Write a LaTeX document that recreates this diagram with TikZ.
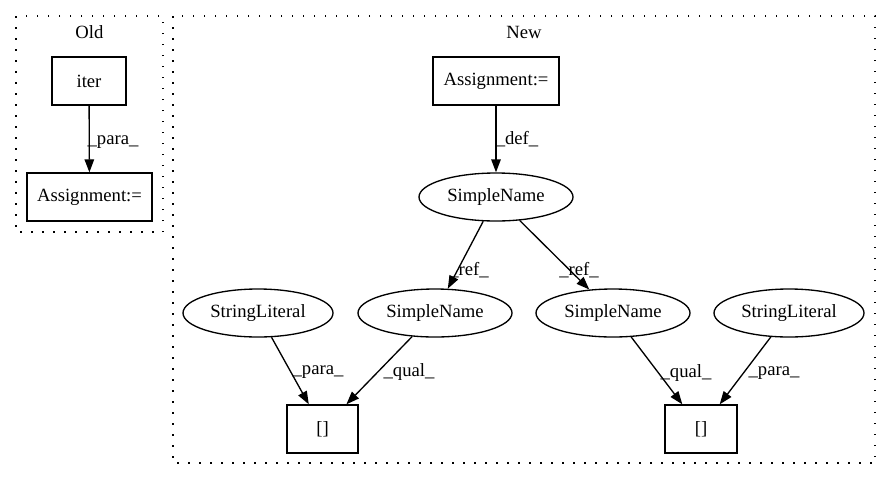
\documentclass[tikz,border=0pt]{standalone}
\usepackage{fontspec}
\setmainfont{Liberation Serif}
\usetikzlibrary{shapes.geometric,arrows.meta}
\begin{document}
\begin{tikzpicture}[x=1pt,y=-1pt,
  every node/.style={font=\fontsize{18.67}{22}\selectfont},
  boxnode/.style={draw,line width=1.33pt,rectangle,inner sep=0pt,minimum height=48pt},
  ellnode/.style={draw,line width=1.33pt,ellipse,inner sep=0pt,minimum height=48pt},
  lbl/.style={inner sep=0pt},
  conn/.style={draw,line width=1.33pt,-{Triangle[length=13pt,width=9.5pt]}},
  clusterbox/.style={draw,line width=1.33pt,dash pattern=on 1.5pt off 9.5pt}]
\useasboundingbox (0,0) rectangle (891,480);
% clusters
\draw[clusterbox] (16,16) rectangle (163,232);
\draw[clusterbox] (173,16) rectangle (875,463);
\node (oldt) at (89.5,32) {Old};
\node (newt) at (524,32) {New};
% Old nodes
\node[boxnode,minimum width=74pt] (iter) at (89,81) {iter};
\node[boxnode,minimum width=125pt] (oasg) at (89.5,197) {Assignment:=};
% New nodes
\node[boxnode,minimum width=126pt] (nasg) at (496,81) {Assignment:=};
\node[ellnode,minimum width=154pt] (sn0) at (496,197) {SimpleName};
\node[ellnode,minimum width=154pt] (sn1) at (435,313) {SimpleName};
\node[ellnode,minimum width=154pt] (sn2) at (613,313) {SimpleName};
\node[ellnode,minimum width=150pt] (sl1) at (258,313) {StringLiteral};
\node[ellnode,minimum width=150pt] (sl2) at (789,313) {StringLiteral};
\node[boxnode,minimum width=71pt] (b1) at (322.5,429) {[]};
\node[boxnode,minimum width=72pt] (b2) at (701,429) {[]};
% edges
\draw[conn] (iter) -- (oasg);
\draw[conn] (nasg) -- (sn0);
\draw[conn] (sn0) -- (sn1);
\draw[conn] (sn0) -- (sn2);
\draw[conn] (sl1) -- (b1);
\draw[conn] (sn1) -- (b1);
\draw[conn] (sn2) -- (b2);
\draw[conn] (sl2) -- (b2);
% edge labels
\node[lbl] (l1) at (113,142) {\_para\_};
\node[lbl] (l2) at (517,139) {\_def\_};
\node[lbl] (l3) at (469,270) {\_ref\_};
\node[lbl] (l4) at (579,270) {\_ref\_};
\node[lbl] (l5) at (318,372) {\_para\_};
\node[lbl] (l6) at (409,372) {\_qual\_};
\node[lbl] (l7) at (686,373) {\_qual\_};
\node[lbl] (l8) at (774,373) {\_para\_};
\end{tikzpicture}
\end{document}
